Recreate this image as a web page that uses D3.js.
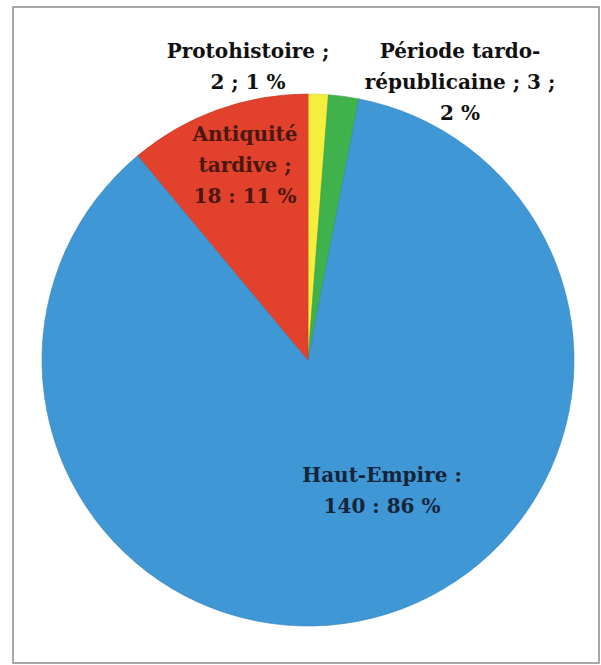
<!DOCTYPE html>
<html>
<head>
<meta charset="utf-8">
<script src="https://cdn.jsdelivr.net/npm/d3@7"></script>
<style>
  html, body { margin: 0; padding: 0; background: #fff; }
  svg { display: block; }
  .labels text { font-family: "DejaVu Serif", "Liberation Serif", "Noto Serif", serif; font-weight: bold; font-size: 20px; }
</style>
</head>
<body>
<svg id="chart" width="601" height="665"></svg>
<script>
// periods, clockwise from 12 o'clock
var categories = ["Protohistoire", "Période tardo-républicaine", "Haut-Empire", "Antiquité tardive"];
var counts = [2, 3, 140, 18];
var percents = [1, 2, 86, 11];
var sliceColors = ["#f6ee3e", "#3fb24b", "#3f97d6", "#e2412b"];
// label lines as printed on the chart
var labelLines = [
  ["Protohistoire ;", "2 ; 1 %"],
  ["Période tardo-", "républicaine ; 3 ;", "2 %"],
  ["Haut-Empire :", "140 : 86 %"],
  ["Antiquité", "tardive ;", "18 : 11 %"]
];
var labelColors = ["#111", "#111", "#14253a", "#4a1810"];

var svg = d3.select("#chart");
var cx = 308, cy = 360, radius = 266;

// frame
svg.append("rect")
  .attr("x", 13).attr("y", 7)
  .attr("width", 586).attr("height", 656)
  .attr("fill", "none")
  .attr("stroke", "#8a8a8a")
  .attr("stroke-width", 1.5);

var pieData = categories.map(function(c, i) {
  return { name: c, value: counts[i], pct: percents[i], color: sliceColors[i], lines: labelLines[i], textColor: labelColors[i] };
});

var pie = d3.pie().sort(null).value(function(d) { return d.value; });
var arc = d3.arc().innerRadius(0).outerRadius(radius);
var arcs = pie(pieData);

var g = svg.append("g").attr("transform", "translate(" + cx + "," + cy + ")");

g.selectAll("path").data(arcs).enter().append("path")
  .attr("d", arc)
  .attr("fill", function(d) { return d.data.color; })
  .attr("stroke", function(d) { return d3.color(d.data.color).darker(0.4); })
  .attr("stroke-width", 0.6);

// label anchor points (centre of the text block), relative to pie centre
var labelPos = [
  [-60, -294],
  [152, -278],
  [74, 130],
  [-63, -195]
];
var lineH = 31;

var labels = svg.append("g").attr("class", "labels")
  .selectAll("text").data(arcs).enter().append("text")
  .attr("text-anchor", "middle")
  .style("fill", function(d) { return d.data.textColor; })
  .attr("transform", function(d, i) {
    return "translate(" + (cx + labelPos[i][0]) + "," + (cy + labelPos[i][1]) + ")";
  });

labels.each(function(d) {
  var n = d.data.lines.length;
  var t = d3.select(this);
  d.data.lines.forEach(function(line, j) {
    t.append("tspan")
      .attr("x", 0)
      .attr("y", (j - (n - 1) / 2) * lineH)
      .attr("dy", "0.35em")
      .text(line);
  });
});
</script>
</body>
</html>
